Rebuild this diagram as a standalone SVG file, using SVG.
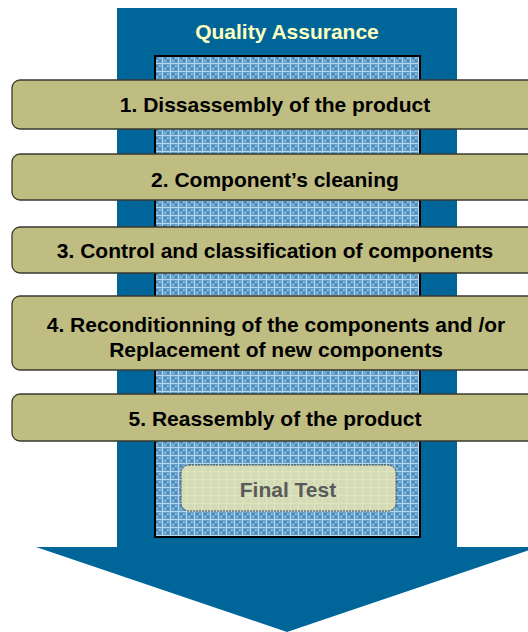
<svg xmlns="http://www.w3.org/2000/svg" width="528" height="632" viewBox="0 0 528 632">
<defs>
<pattern id="hatch" x="155" y="56" width="8" height="8" patternUnits="userSpaceOnUse">
<rect width="8" height="8" fill="#649fca"/>
<rect x="1" y="1" width="2" height="2" fill="#4488bb"/>
<rect x="4" y="4" width="2" height="2" fill="#4488bb"/>
<rect x="4" y="1" width="2" height="2" fill="#80b5da"/>
<rect x="1" y="4" width="2" height="2" fill="#80b5da"/>
<rect x="7" y="0" width="1" height="8" fill="#b5d6ec"/>
<rect x="0" y="7" width="8" height="1" fill="#b5d6ec"/>
</pattern>
</defs>
<style>
.step{fill:#bfbd82;stroke:#3a3a30;stroke-width:1.3}
.lbl{font-family:"Liberation Sans",Arial,sans-serif;font-weight:bold;font-size:21px;fill:#000;text-anchor:middle}
</style>
<g id="background">
<rect x="117" y="8" width="340" height="540" fill="#006699"/>
<polygon points="36,547 538,547 287,632" fill="#006699"/>
<rect x="155" y="56" width="265" height="481" fill="url(#hatch)" stroke="#000" stroke-width="2"/>
<text x="287" y="39" class="lbl" style="fill:#ffffc0">Quality Assurance</text>
</g>
<g id="step1">
<rect class="step" x="12" y="80" width="540" height="49" rx="8"/>
<text class="lbl" x="275" y="112">1. Dissassembly of the product</text>
</g>
<g id="step2">
<rect class="step" x="12" y="154" width="540" height="46" rx="8"/>
<text class="lbl" x="275" y="187">2. Component’s cleaning</text>
</g>
<g id="step3">
<rect class="step" x="12" y="227" width="540" height="46" rx="8"/>
<text class="lbl" x="275" y="258">3. Control and classification of components</text>
</g>
<g id="step4">
<rect class="step" x="12" y="296" width="540" height="74" rx="8"/>
<text class="lbl" x="276" y="332">4. Reconditionning of the components and /or</text>
<text class="lbl" x="276" y="357">Replacement of new components</text>
</g>
<g id="step5">
<rect class="step" x="12" y="394" width="540" height="47" rx="8"/>
<text class="lbl" x="275" y="426">5. Reassembly of the product</text>
</g>
<g id="final-test">
<rect x="181" y="465" width="215" height="46" rx="8" fill="#e6e6b4" fill-opacity="0.85" stroke="#444" stroke-width="1" stroke-dasharray="2,1"/>
<text class="lbl" x="288" y="497" style="fill:#5a5a5a">Final Test</text>
</g>
<g id="connectors"/>
</svg>
